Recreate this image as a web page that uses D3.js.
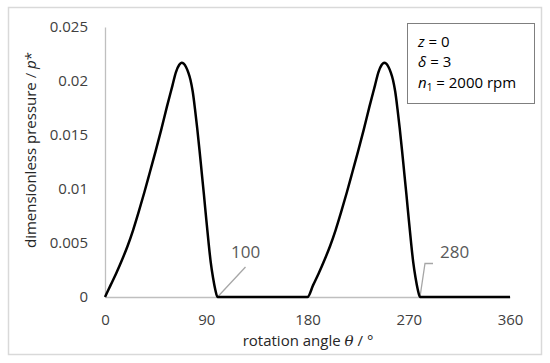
<!DOCTYPE html>
<html><head><meta charset="utf-8">
<script src="https://cdn.jsdelivr.net/npm/d3@7"></script>
<style>
body{margin:0;background:#fff;}
svg text{font-family:"Open Sans",sans-serif;}
</style></head>
<body><svg id="chart" width="550" height="363"></svg>
<script>
// rotation angle θ (°)
const theta = [0,5,10,15,20,25,30,35,40,45,50,55,60,63,66,68,70,72,74,76,78,80,82,84,86,88,90,92,94,96,98,100,
  180,185,190,195,200,205,210,215,220,225,230,235,240,243,246,248,250,252,254,256,258,260,262,264,266,268,270,272,274,276,278,280,360];
// dimensionless pressure p*
const pressure = [0,0.0011,0.0022,0.0034,0.0047,0.0062,0.0079,0.0097,0.0116,0.0135,0.0155,0.0176,0.0196,0.0208,0.0215,0.0217,0.0216,0.0213,0.0208,0.0201,0.0190,0.0174,0.0156,0.0136,0.0115,0.0094,0.0072,0.0051,0.0032,0.0018,0.0007,0,
  0,0.0011,0.0022,0.0034,0.0047,0.0062,0.0079,0.0097,0.0116,0.0135,0.0155,0.0176,0.0196,0.0208,0.0215,0.0217,0.0216,0.0213,0.0208,0.0201,0.0190,0.0174,0.0156,0.0136,0.0115,0.0094,0.0072,0.0051,0.0032,0.0018,0.0007,0,0];
const xTicks = [0,90,180,270,360];
const yTicks = [0,0.005,0.01,0.015,0.02,0.025];
const yTickLabels = ["0","0.005","0.01","0.015","0.02","0.025"];
const annotations = [{theta:100,label:"100"},{theta:280,label:"280"}];

const svg = d3.select("#chart");
// outer frame
svg.append("rect").attr("x",8.5).attr("y",7.5).attr("width",533).attr("height",347)
  .attr("fill","#fff").attr("stroke","#d9d9d9").attr("stroke-width",1.5);

const x = d3.scaleLinear().domain([0,360]).range([105,510]);
const y = d3.scaleLinear().domain([0,0.025]).range([297,27]);

const xAxis = svg.append("g").attr("transform","translate(0,297)")
  .call(d3.axisBottom(x).tickValues(xTicks).tickSize(0).tickPadding(17).tickFormat(d3.format("d")));
xAxis.select(".domain").attr("stroke","#bfbfbf").attr("stroke-width",1.3);
xAxis.selectAll("text").attr("font-size",15).attr("fill","#404040").attr("font-family","Open Sans");

const yAxis = svg.append("g").attr("transform","translate(105,0)")
  .call(d3.axisLeft(y).tickValues(yTicks).tickSize(0).tickPadding(17).tickFormat((d,i)=>yTickLabels[i]));
yAxis.select(".domain").attr("stroke","#bfbfbf").attr("stroke-width",1.3);
yAxis.selectAll("text").attr("font-size",15).attr("fill","#404040").attr("font-family","Open Sans");

// annotation leaders
svg.append("path")
  .attr("d",`M${x(annotations[0].theta)},${y(0)} L${x(annotations[0].theta)+28},${y(0)-30}`)
  .attr("stroke","#a6a6a6").attr("stroke-width",1.3).attr("fill","none");
svg.append("path")
  .attr("d",`M${x(annotations[1].theta)},${y(0)} L${x(annotations[1].theta)+5},${y(0)-33.5} L${x(annotations[1].theta)+13},${y(0)-33.5}`)
  .attr("stroke","#a6a6a6").attr("stroke-width",1.3).attr("fill","none");
svg.append("text").attr("x",231).attr("y",258).attr("font-size",17).attr("fill","#595959").text(annotations[0].label);
svg.append("text").attr("x",440).attr("y",258).attr("font-size",17).attr("fill","#595959").text(annotations[1].label);

// curve
const data = theta.map((t,i)=>({t,p:pressure[i]}));
svg.append("path").datum(data)
  .attr("d",d3.line().x(d=>x(d.t)).y(d=>y(d.p)).curve(d3.curveMonotoneX))
  .attr("fill","none").attr("stroke","#000").attr("stroke-width",2.5).attr("stroke-linejoin","round");

// axis titles
const xt = svg.append("text").attr("x",308).attr("y",346).attr("text-anchor","middle")
  .attr("font-size",15).attr("fill","#262626");
xt.append("tspan").text("rotation angle ");
xt.append("tspan").attr("font-family","DejaVu Serif").attr("font-style","italic").text("θ");
xt.append("tspan").text(" / °");

const yt = svg.append("text").attr("transform","translate(36,150) rotate(-90)").attr("text-anchor","middle")
  .attr("font-size",15).attr("fill","#262626");
yt.append("tspan").text("dimensionless pressure / ");
yt.append("tspan").attr("font-style","italic").text("p");
yt.append("tspan").text("*");

// legend box
svg.append("rect").attr("x",407.5).attr("y",23.5).attr("width",127).attr("height",80)
  .attr("fill","#fff").attr("stroke","#7f7f7f").attr("stroke-width",1);
const lg = svg.append("g").attr("font-size",15).attr("fill","#000");
const l1 = lg.append("text").attr("x",418).attr("y",47);
l1.append("tspan").attr("font-style","italic").text("z");
l1.append("tspan").text(" = 0");
const l2 = lg.append("text").attr("x",418).attr("y",67);
l2.append("tspan").attr("font-style","italic").text("δ");
l2.append("tspan").text(" = 3");
const l3 = lg.append("text").attr("x",418).attr("y",88);
l3.append("tspan").attr("font-style","italic").text("n");
l3.append("tspan").attr("font-size",10).attr("dy",3).text("1");
l3.append("tspan").attr("dy",-3).text(" = 2000 rpm");
</script></body></html>
